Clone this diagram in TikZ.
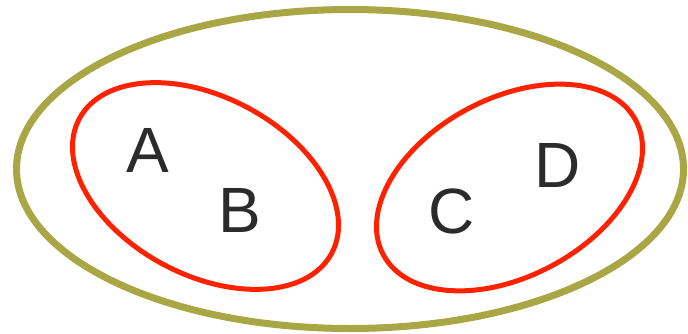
\documentclass[tikz,border=0pt]{standalone}
\usepackage{fontspec}
\setmainfont{Liberation Sans}
\definecolor{olivering}{HTML}{A8A645}
\definecolor{redring}{HTML}{FF2200}
\definecolor{labelgray}{HTML}{2B2B2B}
\tikzset{
  outerset/.style={draw=olivering, line width=7pt},
  innerset/.style={draw=redring, line width=5pt},
  elem/.style={text=labelgray, inner sep=0pt, font=\fontsize{64}{64}\selectfont}
}
\begin{document}
\begin{tikzpicture}[x=1pt,y=1pt]
\useasboundingbox (0,0) rectangle (688,333);
\draw[outerset] (350,164) ellipse [x radius=333.5, y radius=159.5];
\draw[innerset, rotate around={-28:(205.5,147)}] (205.5,147) ellipse [x radius=143, y radius=89];
\draw[innerset, rotate around={28:(509.5,145.5)}] (509.5,145.5) ellipse [x radius=143, y radius=89];
\node[elem] (a) at (148,183) {A};
\node[elem] (b) at (240,123) {B};
\node[elem] (c) at (452,122) {C};
\node[elem] (d) at (558,168) {D};
\end{tikzpicture}
\end{document}
